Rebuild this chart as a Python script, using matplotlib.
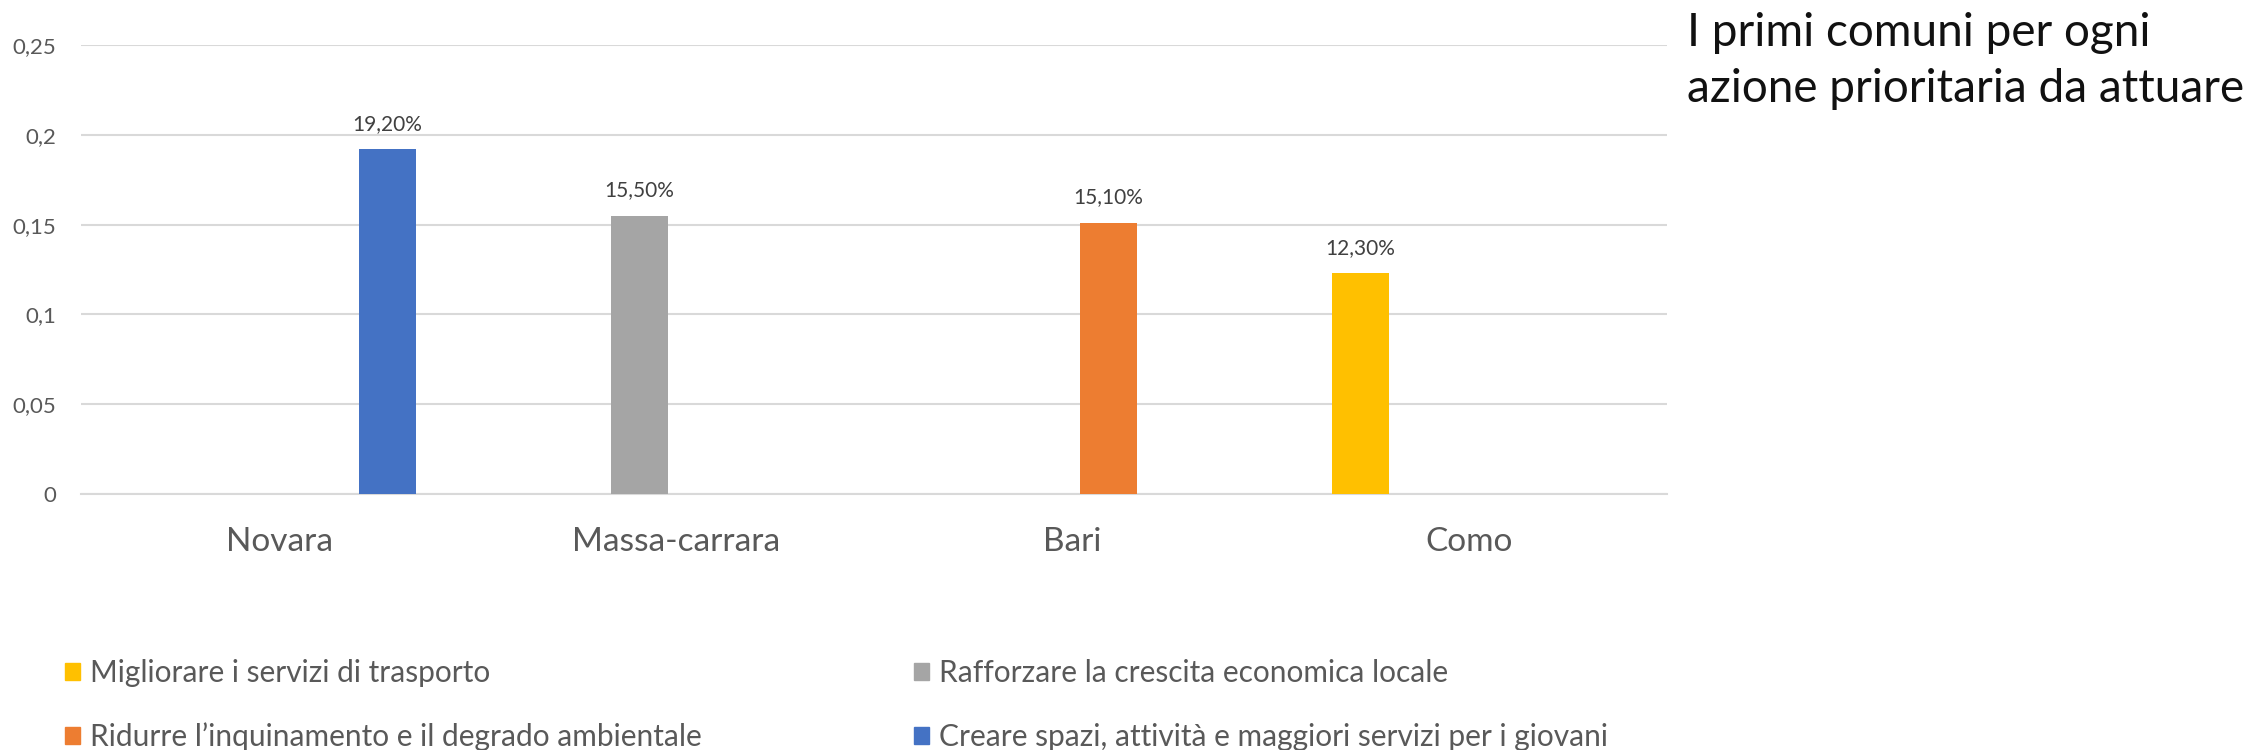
import matplotlib
matplotlib.use("Agg")
import matplotlib.pyplot as plt
from matplotlib.patches import Patch
import numpy as np

plt.rcParams['font.family'] = ['Lato', 'DejaVu Sans']

comuni = ["Novara", "Massa-carrara", "Bari", "Como"]
serie = [
    "Migliorare i servizi di trasporto",
    "Rafforzare la crescita economica locale",
    "Ridurre l\u2019inquinamento e il degrado ambientale",
    "Creare spazi, attività e maggiori servizi per i giovani",
]
migliorare = [0, 0, 0, 0.123]
rafforzare = [0, 0.155, 0, 0]
ridurre = [0, 0, 0.151, 0]
creare = [0.192, 0, 0, 0]
colori = ["#FFC000", "#A5A5A5", "#ED7D31", "#4472C4"]
yticks = [0, 0.05, 0.1, 0.15, 0.2, 0.25]
ytick_labels = ["0", "0,05", "0,1", "0,15", "0,2", "0,25"]

fig = plt.figure(figsize=(22.49, 7.5), dpi=100)
ax = fig.add_axes([81/2249, 1 - 494/750, (1667-81)/2249, (494-45)/750])

x = np.arange(len(comuni))
step = 0.182
width = 0.144
for i, (vals, col) in enumerate(zip([migliorare, rafforzare, ridurre, creare], colori)):
    bars = ax.bar(x + (i - 1.5) * step, vals, width, color=col, zorder=3)
    labels = [f"{v*100:.2f}%".replace(".", ",") if v > 0 else "" for v in vals]
    ax.bar_label(bars, labels=labels, padding=11, fontsize=15, color="#404040")

ax.set_xlim(-0.5, len(comuni) - 0.5)
ax.set_ylim(0, 0.25)
ax.set_yticks(yticks)
ax.set_yticklabels(ytick_labels, fontsize=16, color="#595959")
ax.set_xticks(x)
ax.set_xticklabels(comuni, fontsize=24, color="#595959")
ax.tick_params(axis="y", length=0, pad=18)
ax.tick_params(axis="x", length=0, pad=24)
ax.grid(axis="y", color="#D9D9D9", linewidth=1.5, zorder=0)
for s in ["top", "right", "left"]:
    ax.spines[s].set_visible(False)
ax.spines["bottom"].set_color("#D9D9D9")
ax.spines["bottom"].set_linewidth(1.5)

fig.text(1687/2249, 1 - 12/750, "I primi comuni per ogni\nazione prioritaria da attuare",
         fontsize=33, color="#111111", va="top", ha="left", linespacing=1.42)

# legend in two columns, row-major order like the original
handles = [Patch(color=c) for c in colori]
leg_style = dict(loc="center left", frameon=False, fontsize=21.5, labelcolor="#595959",
                 handlelength=0.5, handleheight=0.5, handletextpad=0.35,
                 labelspacing=1.2, borderpad=0, borderaxespad=0)
fig.legend([handles[0], handles[2]], [serie[0], serie[2]],
           bbox_to_anchor=(65/2249, 1 - 705/750), **leg_style)
fig.legend([handles[1], handles[3]], [serie[1], serie[3]],
           bbox_to_anchor=(914/2249, 1 - 705/750), **leg_style)

fig.savefig("out.png", dpi=100)
